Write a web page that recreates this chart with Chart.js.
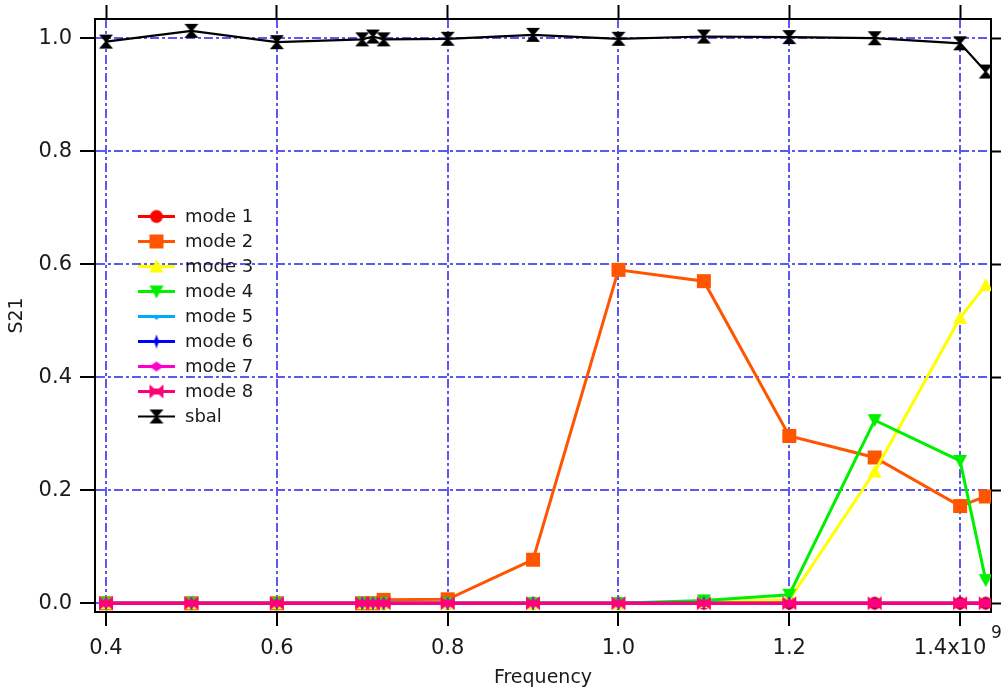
<!DOCTYPE html>
<html>
<head>
<meta charset="utf-8">
<script src="https://cdn.jsdelivr.net/npm/chart.js@4/dist/chart.umd.min.js"></script>
<style>
  body { margin: 0; background: #fff; }
  #wrap { width: 1001px; height: 694px; }
</style>
</head>
<body>
<div id="wrap"><canvas id="s21Chart" width="1001" height="694"></canvas></div>
<script>
// frequency in units of 1e9 Hz
const freq = [0.4, 0.5, 0.6, 0.7, 0.7125, 0.725, 0.8, 0.9, 1.0, 1.1, 1.2, 1.3, 1.4, 1.43];

const mode1 = [0, 0, 0, 0, 0, 0, 0, 0, 0, 0, 0, 0, 0, 0];
const mode2 = [0, 0, 0, 0, 0, 0.006, 0.007, 0.077, 0.590, 0.570, 0.296, 0.258, 0.172, 0.189];
const mode3 = [0, 0, 0, 0, 0, 0, 0, 0, 0, 0.002, 0.006, 0.233, 0.505, 0.563];
const mode4 = [0, 0, 0, 0, 0, 0, 0, 0, 0, 0.005, 0.015, 0.324, 0.252, 0.041];
const mode5 = [0, 0, 0, 0, 0, 0, 0, 0, 0, 0, 0, 0, 0, 0];
const mode6 = [0, 0, 0, 0, 0, 0, 0, 0, 0, 0, 0, 0, 0, 0];
const mode7 = [0, 0, 0, 0, 0, 0, 0, 0, 0, 0, 0, 0, 0, 0];
const mode8 = [0, 0, 0, 0, 0, 0, 0, 0, 0, 0, 0, 0, 0, 0];
const sbal = [0.994, 1.013, 0.993, 0.998, 1.003, 0.998, 0.999, 1.006, 0.999, 1.003, 1.002, 1.000, 0.991, 0.941];

const seriesNames = ['mode 1', 'mode 2', 'mode 3', 'mode 4', 'mode 5', 'mode 6', 'mode 7', 'mode 8', 'sbal'];
const seriesValues = [mode1, mode2, mode3, mode4, mode5, mode6, mode7, mode8, sbal];

const xTickValues = [0.4, 0.6, 0.8, 1.0, 1.2, 1.4];
const xTickLabels = ['0.4', '0.6', '0.8', '1.0', '1.2', '1.4x10   '];
const xExponent = '9';
const yTickValues = [0, 0.2, 0.4, 0.6, 0.8, 1.0];
const yTickLabels = ['0.0', '0.2', '0.4', '0.6', '0.8', '1.0'];

const colors = ['#ff0000', '#ff5500', '#ffff00', '#00f000', '#00aaff', '#0000ff', '#ff00cc', '#ff0077', '#000000'];
const shapes = ['circle', 'square', 'triUp', 'triDown', 'notch', 'thinDiamond', 'diamond', 'bowtie', 'hourglass'];

const FONT = 'DejaVu Sans';
const GRID = '#5a5af2';

// small canvases used as point markers
const makeMarker = (shape, color) => {
  const c = document.createElement('canvas');
  c.width = 16;
  c.height = 16;
  const g = c.getContext('2d');
  g.fillStyle = color;
  g.beginPath();
  switch (shape) {
    case 'circle': g.arc(8, 8, 6.5, 0, Math.PI * 2); break;
    case 'square': g.rect(1, 1, 14, 14); break;
    case 'triUp': g.moveTo(8, 1); g.lineTo(15, 14); g.lineTo(1, 14); break;
    case 'triDown': g.moveTo(1, 2); g.lineTo(15, 2); g.lineTo(8, 15); break;
    case 'notch': g.moveTo(4, 8); g.lineTo(12, 8); g.lineTo(8, 11.5); break;
    case 'thinDiamond': g.moveTo(8, 1); g.lineTo(10.5, 8); g.lineTo(8, 15); g.lineTo(5.5, 8); break;
    case 'diamond': g.moveTo(8, 3); g.lineTo(15, 8); g.lineTo(8, 13); g.lineTo(1, 8); break;
    case 'bowtie':
      g.moveTo(1, 1); g.lineTo(8, 7); g.lineTo(15, 1); g.lineTo(15, 15); g.lineTo(8, 9); g.lineTo(1, 15);
      g.closePath();
      g.rect(1, 5, 14, 6);
      break;
    case 'hourglass':
      g.moveTo(1, 1); g.lineTo(15, 1); g.lineTo(9, 8); g.lineTo(15, 15); g.lineTo(1, 15); g.lineTo(7, 8);
      break;
  }
  g.closePath();
  g.fill();
  return c;
};

const markers = shapes.map((s, i) => makeMarker(s, colors[i]));

const datasets = seriesNames.map((name, i) => ({
  label: name,
  data: freq.map((f, j) => ({ x: f, y: seriesValues[i][j] })),
  borderColor: colors[i],
  backgroundColor: colors[i],
  borderWidth: i === 8 ? 2.2 : 3,
  pointStyle: markers[i],
  pointRadius: 7,
  tension: 0,
  order: 100 - i, // later traces on top
}));

// legend drawn inside the plot, line + marker + text
const insideLegend = {
  id: 'insideLegend',
  afterDatasetsDraw(chart) {
    const ctx = chart.ctx;
    ctx.save();
    ctx.font = `18px "${FONT}"`;
    ctx.textBaseline = 'middle';
    ctx.fillStyle = '#1a1a1a';
    seriesNames.forEach((name, i) => {
      const y = 216.5 + i * 25;
      ctx.strokeStyle = colors[i];
      ctx.lineWidth = i === 8 ? 2.2 : 3;
      ctx.beginPath();
      ctx.moveTo(138, y);
      ctx.lineTo(175, y);
      ctx.stroke();
      ctx.drawImage(markers[i], 156.5 - 8, y - 8);
      ctx.fillText(name, 185, y + 1);
    });
    ctx.restore();
  },
  afterDraw(chart) {
    // exponent of the x axis
    const ctx = chart.ctx;
    const xs = chart.scales.x;
    ctx.save();
    ctx.font = `17px "${FONT}"`;
    ctx.fillStyle = '#1a1a1a';
    ctx.textBaseline = 'middle';
    ctx.fillText(xExponent, xs.getPixelForValue(1.4) + 31, 634);
    ctx.restore();
  }
};

const setTicks = (values) => (scale) => { scale.ticks = values.map((v) => ({ value: v })); };
const fitTo = (w, h) => (s) => {
  if (w !== null) s.width = w;
  if (h !== null) s.height = h;
  s.paddingLeft = 0; s.paddingRight = 0; s.paddingTop = 0; s.paddingBottom = 0;
};

const X_MIN = 0.3871, X_MAX = 1.4362;
const Y_MIN = -0.0155, Y_MAX = 1.034;

new Chart(document.getElementById('s21Chart'), {
  type: 'line',
  data: { datasets },
  options: {
    responsive: false,
    animation: false,
    layout: { padding: 0 },
    plugins: { legend: { display: false }, tooltip: { enabled: false } },
    scales: {
      x: {
        type: 'linear', position: 'bottom', min: X_MIN, max: X_MAX,
        afterBuildTicks: setTicks(xTickValues),
        afterFit: fitTo(null, 82),
        grid: { color: GRID, lineWidth: 2, tickColor: '#000', tickLength: 14, tickWidth: 2 },
        border: { color: '#000', width: 2, dash: [9, 3, 3, 3] },
        ticks: {
          padding: 10, color: '#1a1a1a', font: { family: FONT, size: 21 },
          maxRotation: 0, autoSkip: false,
          callback: (v) => xTickLabels[xTickValues.findIndex((t) => Math.abs(t - v) < 1e-6)]
        },
        title: { display: true, text: 'Frequency', color: '#1a1a1a', font: { family: FONT, size: 19 }, padding: { top: 0, bottom: 5 } }
      },
      x2: {
        type: 'linear', position: 'top', min: X_MIN, max: X_MAX,
        afterBuildTicks: setTicks(xTickValues),
        afterFit: fitTo(null, 19),
        grid: { drawOnChartArea: false, tickColor: '#000', tickLength: 14, tickWidth: 2 },
        border: { color: '#000', width: 2 },
        ticks: { display: false }
      },
      y: {
        type: 'linear', position: 'left', min: Y_MIN, max: Y_MAX,
        afterBuildTicks: setTicks(yTickValues),
        afterFit: fitTo(95, null),
        grid: { color: GRID, lineWidth: 2, tickColor: '#000', tickLength: 15, tickWidth: 2 },
        border: { color: '#000', width: 2, dash: [9, 3, 3, 3] },
        ticks: {
          padding: 8, color: '#1a1a1a', font: { family: FONT, size: 21 },
          callback: (v) => yTickLabels[yTickValues.findIndex((t) => Math.abs(t - v) < 1e-6)]
        },
        title: { display: true, text: 'S21', color: '#1a1a1a', font: { family: FONT, size: 19 }, padding: { top: 6, bottom: 0 } }
      },
      y2: {
        type: 'linear', position: 'right', min: Y_MIN, max: Y_MAX,
        afterBuildTicks: setTicks(yTickValues),
        afterFit: fitTo(8, null),
        grid: { drawOnChartArea: false, tickColor: '#000', tickLength: 10, tickWidth: 2 },
        border: { color: '#000', width: 2 },
        ticks: { display: false }
      }
    }
  },
  plugins: [insideLegend]
});
</script>
</body>
</html>
